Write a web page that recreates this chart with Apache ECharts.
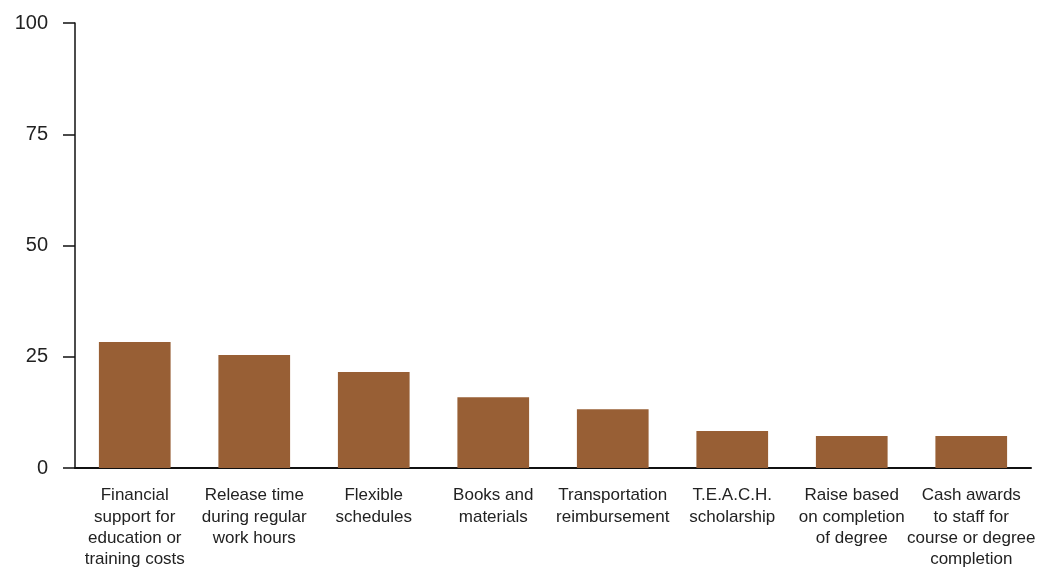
<!DOCTYPE html>
<html><head><meta charset="utf-8">
<script src="https://cdn.jsdelivr.net/npm/echarts@6/dist/echarts.min.js"></script>
<style>html,body{margin:0;padding:0;background:#fff}#c{width:1040px;height:568px}</style>
</head><body><div id="c"></div>
<script>
const categories = [
  "Financial\nsupport for\neducation or\ntraining costs",
  "Release time\nduring regular\nwork hours",
  "Flexible\nschedules",
  "Books and\nmaterials",
  "Transportation\nreimbursement",
  "T.E.A.C.H.\nscholarship",
  "Raise based\non completion\nof degree",
  "Cash awards\nto staff for\ncourse or degree\ncompletion"
];
const values = [28.3, 25.4, 21.6, 15.9, 13.2, 8.3, 7.2, 7.2];
const yTicks = [0, 25, 50, 75, 100];

const chart = echarts.init(document.getElementById('c'));
chart.setOption({
  animation: false,
  grid: { left: 75, right: 9, top: 23, bottom: 100, outerBoundsMode: 'none', containLabel: false },
  xAxis: {
    type: 'category', data: categories,
    axisLine: { lineStyle: { color: '#111', width: 2 } },
    axisTick: { show: false },
    axisLabel: { interval: 0, margin: 17, color: '#222', fontFamily: '"Liberation Sans", sans-serif', fontSize: 17, lineHeight: 21.3 }
  },
  yAxis: {
    type: 'value', min: yTicks[0], max: yTicks[yTicks.length - 1], interval: 25,
    splitLine: { show: false },
    axisLine: { show: true, lineStyle: { color: '#111', width: 1.5 } },
    axisTick: { show: true, length: 12, lineStyle: { color: '#111', width: 1.5 } },
    axisLabel: { margin: 27, color: '#222', fontFamily: '"Liberation Sans", sans-serif', fontSize: 20 }
  },
  series: [{
    type: 'bar', data: values, barWidth: '60%',
    itemStyle: { color: '#985f35' }
  }]
});
</script></body></html>
